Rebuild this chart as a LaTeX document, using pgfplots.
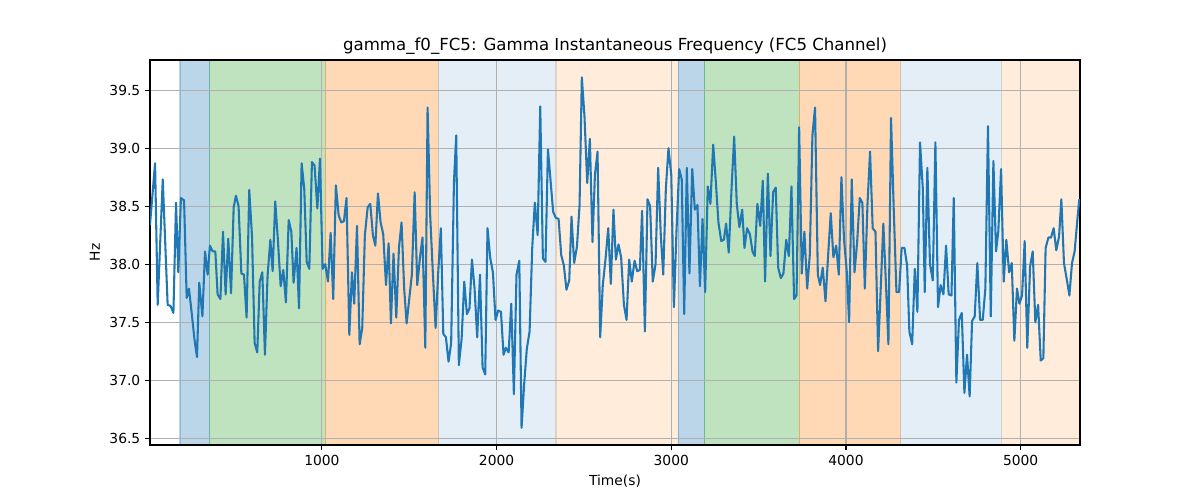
\documentclass[border=0pt]{standalone}
\usepackage{pgfplots}
\pgfplotsset{compat=1.18}
\usepackage{fontspec}
\setmainfont{DejaVu Sans}
\definecolor{tabblue}{RGB}{31,119,180}
\definecolor{taborange}{RGB}{255,127,14}
\definecolor{tabgreen}{RGB}{44,160,44}
\definecolor{gridgray}{RGB}{176,176,176}
\begin{document}
\begin{tikzpicture}
\begin{axis}[
  set layers,
  at={(0pt,0pt)}, anchor=south west,
  scale only axis, width=672.1pt, height=278.2pt,
  xmin=16, xmax=5340, ymin=36.442, ymax=39.759,
  xtick={1000,2000,3000,4000,5000},
  ytick={36.5,37,37.5,38,38.5,39,39.5},
  xticklabel style={/pgf/number format/1000 sep={}},
  yticklabel style={/pgf/number format/.cd,fixed,fixed zerofill,precision=1},
  /pgf/number format/assume math mode=true,
  tick label style={font=\fontsize{10}{12}\selectfont},
  label style={font=\fontsize{10}{12}\selectfont},
  title style={font=\fontsize{12}{14}\selectfont, yshift=-5.5pt},
  title={gamma\_f0\_FC5: Gamma Instantaneous Frequency (FC5 Channel)},
  xlabel={Time(s)}, ylabel={Hz},
  tick align=outside, xtick pos=bottom, ytick pos=left,
  major tick length=3.5pt,
  every tick/.style={black, line width=0.8pt},
  axis line style={line width=0.8pt},
  grid=major, major grid style={gridgray, line width=0.8pt},
  span/.style={on layer=axis background, fill=#1, draw=#1, line width=0.8pt},
]
\addplot[span=tabblue, fill opacity=0.3, draw opacity=0.3] coordinates {(188,36.442) (359,36.442) (359,39.759) (188,39.759)} -- cycle;
\addplot[span=tabgreen, fill opacity=0.3, draw opacity=0.3] coordinates {(359,36.442) (1020,36.442) (1020,39.759) (359,39.759)} -- cycle;
\addplot[span=taborange, fill opacity=0.3, draw opacity=0.3] coordinates {(1020,36.442) (1666,36.442) (1666,39.759) (1020,39.759)} -- cycle;
\addplot[span=tabblue, fill opacity=0.12, draw opacity=0.12] coordinates {(1666,36.442) (2340,36.442) (2340,39.759) (1666,39.759)} -- cycle;
\addplot[span=taborange, fill opacity=0.15, draw opacity=0.15] coordinates {(2340,36.442) (3039,36.442) (3039,39.759) (2340,39.759)} -- cycle;
\addplot[span=tabblue, fill opacity=0.3, draw opacity=0.3] coordinates {(3039,36.442) (3188,36.442) (3188,39.759) (3039,39.759)} -- cycle;
\addplot[span=tabgreen, fill opacity=0.3, draw opacity=0.3] coordinates {(3188,36.442) (3733,36.442) (3733,39.759) (3188,39.759)} -- cycle;
\addplot[span=taborange, fill opacity=0.3, draw opacity=0.3] coordinates {(3733,36.442) (4310,36.442) (4310,39.759) (3733,39.759)} -- cycle;
\addplot[span=tabblue, fill opacity=0.12, draw opacity=0.12] coordinates {(4310,36.442) (4892,36.442) (4892,39.759) (4310,39.759)} -- cycle;
\addplot[span=taborange, fill opacity=0.15, draw opacity=0.15] coordinates {(4892,36.442) (5340,36.442) (5340,39.759) (4892,39.759)} -- cycle;
\addplot[tabblue, line width=1.5pt, mark=none, line join=round] coordinates {
(16,38.34)(45,38.87)(60,37.65)(89,38.73)(117,37.65)(134,37.64)(150,37.58)(165,38.53)(178,37.93)(193,38.57)(211,38.55)(226,37.71)(239,37.79)(254,37.59)(270,37.36)(285,37.20)(298,37.84)(316,37.55)(331,38.11)(346,37.91)(359,38.16)(375,38.11)(390,38.11)(403,37.74)(419,37.70)(434,38.28)(449,37.74)(464,38.22)(480,37.75)(495,38.49)(508,38.59)(523,38.50)(539,37.92)(554,37.91)(569,37.54)(584,38.64)(600,38.24)(615,37.32)(630,37.24)(644,37.85)(659,37.93)(674,37.22)(689,37.90)(705,38.21)(718,37.94)(733,38.54)(748,38.21)(764,37.81)(779,37.95)(794,37.67)(810,38.38)(825,38.28)(838,37.84)(855,38.14)(869,37.62)(884,38.87)(899,38.65)
(913,38.02)(928,37.96)(943,38.88)(958,38.85)(974,38.48)(989,38.91)(1004,37.96)(1019,38.00)(1035,37.85)(1050,38.27)(1065,37.70)(1080,38.68)(1096,38.42)(1111,38.36)(1126,38.37)(1141,38.57)(1157,37.39)(1172,37.93)(1185,37.66)(1201,38.33)(1216,37.31)(1231,37.45)(1246,38.25)(1262,38.49)(1277,38.52)(1292,38.25)(1306,38.16)(1321,38.61)(1336,38.36)(1351,38.26)(1367,37.82)(1382,38.18)(1395,37.49)(1410,38.09)(1426,37.54)(1441,38.14)(1456,38.36)(1471,37.79)(1485,37.49)(1500,37.70)(1515,37.91)(1531,38.62)(1546,37.82)(1561,38.05)(1576,38.23)(1592,37.28)(1605,39.35)(1620,38.42)(1635,37.93)(1651,37.45)(1666,37.93)(1681,38.31)(1695,37.40)(1710,37.37)(1725,37.16)(1740,37.32)(1756,38.71)
(1769,39.11)(1784,37.13)(1800,37.36)(1815,37.85)(1830,37.57)(1845,37.62)(1859,38.04)(1874,37.79)(1889,37.37)(1905,37.91)(1920,37.11)(1935,37.05)(1948,38.31)(1964,38.05)(1979,37.93)(1994,37.52)(2009,37.60)(2025,37.59)(2040,37.22)(2053,37.28)(2069,37.24)(2084,37.66)(2099,36.88)(2114,37.91)(2130,38.03)(2143,36.59)(2158,36.97)(2173,37.27)(2189,37.42)(2204,38.14)(2219,38.53)(2235,38.25)(2250,39.36)(2265,38.05)(2280,38.02)(2294,38.99)(2309,38.72)(2324,38.45)(2339,38.40)(2355,38.39)(2370,38.08)(2385,37.99)(2400,37.78)(2416,37.86)(2429,38.41)(2444,38.01)(2460,38.15)(2475,38.51)(2488,39.61)(2503,39.28)(2519,38.70)(2534,39.08)(2549,38.19)(2563,38.77)(2578,38.97)(2593,37.37)(2608,37.82)(2624,38.05)(2639,38.31)(2654,37.83)
(2669,38.47)(2683,38.04)(2698,38.17)(2713,38.06)(2729,37.65)(2744,37.52)(2759,38.04)(2774,37.85)(2790,38.03)(2805,37.94)(2820,37.95)(2833,38.46)(2849,37.42)(2864,38.56)(2879,38.50)(2894,37.85)(2910,38.00)(2925,38.83)(2940,38.25)(2954,37.91)(2969,38.65)(2984,39.00)(3000,38.77)(3015,37.63)(3030,38.29)(3045,38.82)(3060,38.73)(3074,37.57)(3089,38.83)(3104,37.92)(3120,38.82)(3135,38.47)(3150,38.51)(3164,37.81)(3179,38.39)(3194,37.76)(3209,38.67)(3224,38.52)(3240,39.03)(3255,38.71)(3270,38.36)(3286,38.20)(3301,38.21)(3314,38.35)(3329,38.10)(3345,38.65)(3360,39.10)(3375,38.52)(3390,38.32)(3406,38.47)(3419,38.14)(3434,38.31)(3450,38.26)(3465,38.11)(3478,38.07)(3493,38.52)(3509,38.33)(3524,38.72)(3537,37.85)
(3553,38.78)(3568,38.07)(3583,38.62)(3598,38.66)(3612,37.97)(3627,37.88)(3642,37.92)(3658,38.21)(3673,38.07)(3688,38.67)(3703,37.70)(3717,37.73)(3732,39.18)(3747,37.92)(3762,38.28)(3778,37.79)(3793,38.08)(3808,39.11)(3823,39.35)(3839,37.91)(3852,37.82)(3867,37.97)(3883,37.68)(3898,38.08)(3913,38.44)(3928,38.06)(3944,38.16)(3959,37.91)(3974,38.75)(3989,38.21)(4005,37.93)(4018,37.50)(4033,38.73)(4049,37.93)(4064,38.19)(4079,38.57)(4094,38.53)(4108,37.79)(4123,38.51)(4138,38.97)(4153,38.31)(4169,38.28)(4184,37.25)(4199,37.79)(4214,38.35)(4230,37.79)(4243,37.31)(4258,39.26)(4274,38.45)(4289,37.76)(4304,37.76)(4319,38.14)(4335,38.14)(4350,37.99)(4363,37.42)(4379,37.31)(4394,37.96)(4409,37.59)(4424,39.05)(4440,38.65)
(4451,37.76)(4466,38.83)(4481,38.00)(4497,37.86)(4512,39.05)(4527,37.63)(4542,37.82)(4558,37.74)(4573,38.16)(4588,37.74)(4604,37.73)(4617,38.57)(4632,36.98)(4647,37.52)(4663,37.58)(4678,36.89)(4693,37.22)(4708,36.86)(4722,37.51)(4737,37.55)(4752,38.01)(4768,37.52)(4783,37.52)(4798,37.79)(4813,39.19)(4829,37.55)(4844,38.89)(4859,38.11)(4872,38.28)(4888,38.82)(4903,37.85)(4918,38.21)(4934,37.93)(4949,38.01)(4964,37.34)(4979,37.79)(4993,37.66)(5008,37.73)(5023,38.20)(5038,37.28)(5054,37.98)(5069,38.11)(5084,37.50)(5100,37.65)(5115,37.17)(5130,37.19)(5143,38.14)(5159,38.23)(5174,38.23)(5189,38.31)(5204,38.12)(5220,38.24)(5233,38.56)(5248,38.01)(5264,37.87)(5279,37.73)(5294,38.01)(5309,38.11)(5325,38.39)(5336,38.56)
};
\end{axis}
\pgfresetboundingbox
\path[use as bounding box] (-108.4pt,-39.7pt) rectangle (758.8pt,321.6pt);
\end{tikzpicture}
\end{document}
